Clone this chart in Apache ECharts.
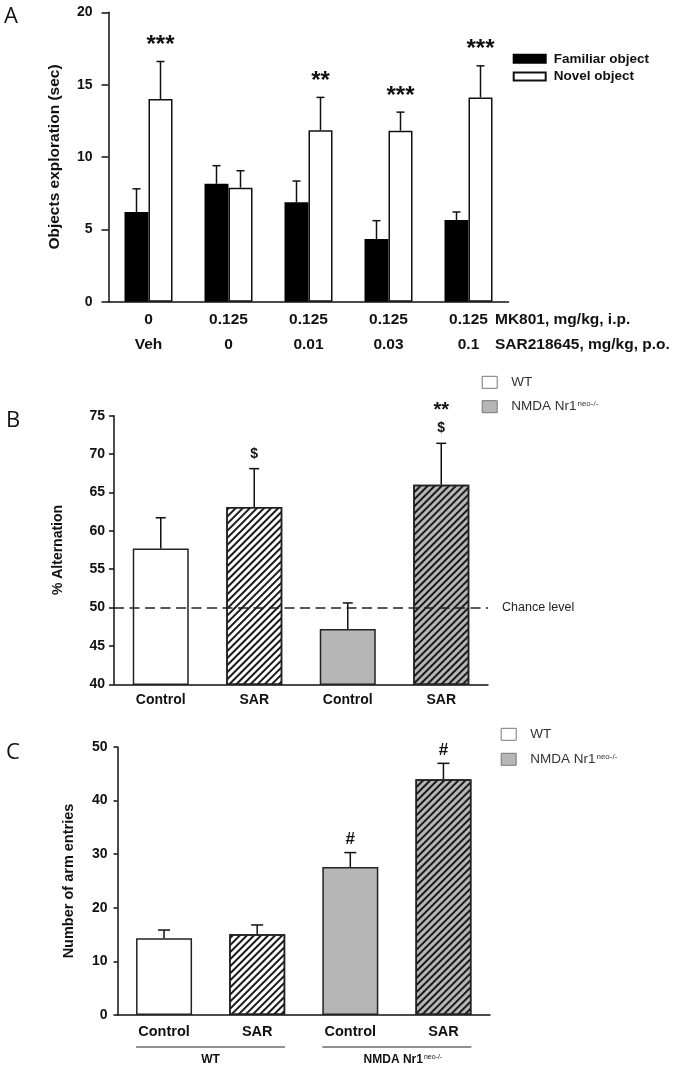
<!DOCTYPE html>
<html>
<head>
<meta charset="utf-8">
<script src="https://cdn.jsdelivr.net/npm/echarts@6/dist/echarts.min.js"></script>
<style>
html,body{margin:0;padding:0;background:#fff;}
#chart{width:675px;height:1070px;}
</style>
</head>
<body>
<div id="chart"></div>
<script>
// ---------- DATA ----------
// Panel A: novel object recognition
const mkDose = ['0', '0.125', '0.125', '0.125', '0.125'];
const sarDose = ['Veh', '0', '0.01', '0.03', '0.1'];
const familiar = [6.2, 8.15, 6.87, 4.33, 5.65];
const familiarSem = [1.6, 1.25, 1.47, 1.27, 0.55];
const novel = [14.0, 7.88, 11.85, 11.82, 14.12];
const novelSem = [2.6, 1.17, 2.27, 1.28, 2.18];
const sigA = ['***', '', '**', '***', '***'];

// Panel B: % alternation
const treatments = ['Control', 'SAR', 'Control', 'SAR'];
const genotype = ['WT', 'WT', 'NMDA', 'NMDA'];
const hatched = [false, true, false, true];
const alternation = [57.7, 63.1, 47.2, 66.0];
const alternationSem = [4.0, 5.0, 3.4, 5.4];
const sigB = ['', '$', '', '$'];
const sigB2 = ['', '', '', '**'];
const chanceLevel = 50;

// Panel C: arm entries
const armEntries = [14.3, 15.05, 27.6, 44.0];
const armEntriesSem = [1.55, 1.75, 2.7, 2.95];
const sigC = ['', '', '#', '#'];
const groupSpans = [[0, 1], [2, 3]];
const groupNames = ['WT', 'NMDA Nr1'];
const groupSup = ['', 'neo-/-'];

// ---------- STYLE ----------
const FONT = '"Liberation Sans", Arial, sans-serif';
const INK = '#111';
const GREY = '#b6b6b6';
const hatch = () => ({
  symbol: 'rect', symbolSize: 1, color: '#1a1a1a',
  dashArrayX: [1, 0], dashArrayY: [1.5, 2.8], rotation: -Math.PI / 4
});

function errSeries(xi, values, sems, opts) {
  return {
    type: 'custom', xAxisIndex: xi, yAxisIndex: xi, z: 5, silent: true, clip: false,
    data: values.map((v, i) => [i, v, v + sems[i]]),
    encode: { x: 0, y: [1, 2] },
    renderItem: function (params, api) {
      const i = params.dataIndex;
      const band = api.size([1, 0])[0];
      const p0 = api.coord([api.value(0), api.value(1)]);
      const p1 = api.coord([api.value(0), api.value(2)]);
      const x = p0[0] + (opts.offset || 0) * band;
      const st = { stroke: INK, lineWidth: 1.5 };
      const ch = [
        { type: 'line', shape: { x1: x, y1: p0[1], x2: x, y2: p1[1] }, style: st },
        { type: 'line', shape: { x1: x - opts.cap / 2, y1: p1[1], x2: x + opts.cap / 2, y2: p1[1] }, style: st }
      ];
      if (opts.labels && opts.labels[i]) {
        ch.push({ type: 'text', x: x, y: p1[1] - opts.gap,
          style: { text: opts.labels[i], font: opts.font, fill: INK, align: 'center', verticalAlign: 'middle' } });
      }
      if (opts.labels2 && opts.labels2[i]) {
        ch.push({ type: 'text', x: x, y: p1[1] - opts.gap2,
          style: { text: opts.labels2[i], font: opts.font2, fill: INK, align: 'center', verticalAlign: 'middle' } });
      }
      return { type: 'group', children: ch };
    }
  };
}

function genoBars(xi, values) {
  const mk = (g) => values.map((v, i) => genotype[i] !== g ? '-' : {
    value: v,
    itemStyle: hatched[i] ? { decal: hatch() } : {}
  });
  return [
    { name: 'WT', type: 'bar', xAxisIndex: xi, yAxisIndex: xi, barWidth: 56, barGap: '-100%',
      itemStyle: { color: '#fff', borderColor: '#222', borderWidth: 1.5 }, data: mk('WT') },
    { name: 'NMDA', type: 'bar', xAxisIndex: xi, yAxisIndex: xi, barWidth: 56, barGap: '-100%',
      itemStyle: { color: GREY, borderColor: '#222', borderWidth: 1.5 }, data: mk('NMDA') }
  ];
}

const axisLineStyle = { show: true, lineStyle: { color: INK, width: 1.5 } };
function yAxisCfg(gi, min, max, interval, name, nameSize, nameGap, tickLen, margin) {
  return {
    gridIndex: gi, type: 'value', min: min, max: max, interval: interval,
    name: name, nameLocation: 'middle', nameGap: nameGap,
    nameTextStyle: { fontFamily: FONT, fontWeight: 'bold', fontSize: nameSize, color: INK },
    axisLine: axisLineStyle,
    axisTick: { show: true, length: tickLen, lineStyle: { color: INK, width: 1.5 } },
    axisLabel: { fontFamily: FONT, fontWeight: 'bold', fontSize: 14, color: INK, margin: margin },
    splitLine: { show: false }
  };
}
function xAxisCfg(gi, data, extra) {
  return Object.assign({
    gridIndex: gi, type: 'category', data: data,
    axisLine: axisLineStyle, axisTick: { show: false }
  }, extra);
}

const legendRich = { sup: { fontSize: 8, verticalAlign: 'top', fontFamily: FONT, color: '#333', padding: [0, 0, 6, 1] } };
function genoLegend(left, top, gap) {
  return {
    orient: 'vertical', left: left, top: top, padding: 0, itemGap: gap,
    itemWidth: 15, itemHeight: 12, icon: 'rect', selectedMode: false,
    data: [
      { name: 'WT', itemStyle: { color: '#fff', borderColor: '#777', borderWidth: 1 } },
      { name: 'NMDA', itemStyle: { color: GREY, borderColor: '#777', borderWidth: 1 } }
    ],
    formatter: n => n === 'NMDA' ? 'NMDA Nr1{sup|neo-/-}' : n,
    textStyle: { fontFamily: FONT, fontSize: 13.5, color: '#333', lineHeight: 14, padding: [0, 0, 0, 9], rich: legendRich }
  };
}

const chart = echarts.init(document.getElementById('chart'), null, { renderer: 'canvas' });
const option = {
  backgroundColor: '#fff',
  animation: false,
  grid: [
    { left: 108.5, top: 12.3, width: 400, height: 289.4 },
    { left: 114, top: 415.7, width: 374, height: 268.6 },
    { left: 117.5, top: 747, width: 372.5, height: 268 }
  ],
  legend: [
    {
      orient: 'vertical', left: 512.7, top: 51.8, padding: 0, itemGap: 3.7,
      itemWidth: 32, itemHeight: 8, icon: 'rect', selectedMode: false,
      data: ['Familiar object', 'Novel object'],
      textStyle: { fontFamily: FONT, fontWeight: 'bold', fontSize: 13.5, color: INK, lineHeight: 14, padding: [0, 0, 0, 3] }
    },
    genoLegend(481.7, 375.3, 10.4),
    genoLegend(500.7, 727.3, 11)
  ],
  xAxis: [
    xAxisCfg(0, mkDose, {
      axisLabel: {
        fontFamily: FONT, fontWeight: 'bold', fontSize: 15.5, color: INK, margin: 6, lineHeight: 25,
        formatter: (v, i) => v + '\n' + sarDose[i]
      }
    }),
    xAxisCfg(1, treatments, { axisLabel: { fontFamily: FONT, fontWeight: 'bold', fontSize: 14, color: INK, margin: 9 } }),
    xAxisCfg(2, treatments, { axisLabel: { fontFamily: FONT, fontWeight: 'bold', fontSize: 14.5, color: INK, margin: 9 } })
  ],
  yAxis: [
    yAxisCfg(0, 0, 20, 5, 'Objects exploration (sec)', 15.5, 46, 7, 16),
    yAxisCfg(1, 40, 75, 5, '% Alternation', 14, 49, 5, 9),
    yAxisCfg(2, 0, 50, 10, 'Number of arm entries', 14.5, 41, 4, 10)
  ],
  series: [
    // Panel A
    { name: 'Familiar object', type: 'bar', xAxisIndex: 0, yAxisIndex: 0, barWidth: 24, barGap: '0%',
      itemStyle: { color: '#000', borderColor: '#000', borderWidth: 1.5 }, data: familiar },
    { name: 'Novel object', type: 'bar', xAxisIndex: 0, yAxisIndex: 0, barWidth: 24, barGap: '0%',
      itemStyle: { color: '#fff', borderColor: INK, borderWidth: 1.5 }, data: novel },
    errSeries(0, familiar, familiarSem, { offset: -0.15, cap: 8 }),
    errSeries(0, novel, novelSem, { offset: 0.15, cap: 8, labels: sigA, gap: 16, font: 'bold 24px ' + FONT }),
    // Panel B
    ...genoBars(1, alternation).map((s, k) => k === 0 ? Object.assign(s, {
      markLine: {
        silent: true, symbol: 'none',
        lineStyle: { color: '#222', width: 1.5, type: [10, 5.5] },
        label: { show: true, position: 'end', formatter: 'Chance level', fontFamily: FONT, fontSize: 12.5,
          color: '#222', padding: [18, 0, 0, 9] },
        data: [{ yAxis: chanceLevel }]
      }
    }) : s),
    errSeries(1, alternation, alternationSem, { cap: 10, labels: sigB, gap: 15, font: 'bold 14px ' + FONT,
      labels2: sigB2, gap2: 33, font2: 'bold 20px ' + FONT }),
    // Panel C
    ...genoBars(2, armEntries),
    errSeries(2, armEntries, armEntriesSem, { cap: 12, labels: sigC, gap: 13, font: 'bold 17px ' + FONT }),
    {
      type: 'custom', xAxisIndex: 2, yAxisIndex: 2, silent: true, clip: false,
      data: groupSpans, encode: { x: [0, 1] },
      renderItem: function (params, api) {
        const i = params.dataIndex;
        const a = api.coord([api.value(0), 0]);
        const b = api.coord([api.value(1), 0]);
        const half = api.size([1, 0])[0] * 0.3;
        const y = a[1] + 32;
        const cx = (a[0] + b[0]) / 2 + (groupSup[i] ? 6 : 0);
        const txt = groupSup[i] ? groupNames[i] + '{sup|' + groupSup[i] + '}' : groupNames[i];
        return { type: 'group', children: [
          { type: 'line', shape: { x1: a[0] - half, y1: y, x2: b[0] + half, y2: y }, style: { stroke: '#222', lineWidth: 1 } },
          { type: 'text', x: cx, y: y + 13, style: { text: txt, font: 'bold 12px ' + FONT, fill: INK, align: 'center', verticalAlign: 'middle',
            rich: { sup: { fontSize: 7, fontWeight: 'normal', fontFamily: FONT, verticalAlign: 'top', padding: [0, 0, 6, 1] } } } }
        ] };
      }
    }
  ],
  graphic: [
    { type: 'text', left: 4, top: 6, style: { text: 'A', font: '22px "Open Sans", sans-serif', fill: '#111' } },
    { type: 'text', left: 6, top: 410, style: { text: 'B', font: '22px "Open Sans", sans-serif', fill: '#111' } },
    { type: 'text', left: 6, top: 742, style: { text: 'C', font: '22px "Open Sans", sans-serif', fill: '#111' } },
    { type: 'text', x: 495, y: 320, style: { text: 'MK801, mg/kg, i.p.', font: 'bold 15.5px ' + FONT, fill: INK, verticalAlign: 'middle' } },
    { type: 'text', x: 495, y: 345, style: { text: 'SAR218645, mg/kg, p.o.', font: 'bold 15.5px ' + FONT, fill: INK, verticalAlign: 'middle' } }
  ]
};
chart.setOption(option);
</script>
</body>
</html>
